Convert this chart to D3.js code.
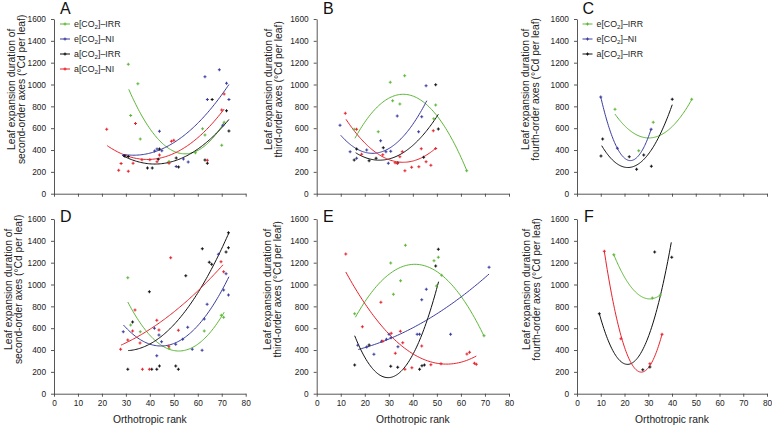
<!DOCTYPE html>
<html><head><meta charset="utf-8">
<script src="https://cdn.jsdelivr.net/npm/d3@7"></script>
<style>
body{margin:0;background:#fff;}
svg{display:block;font-family:"Liberation Sans",Arial,sans-serif;}
</style></head><body>
<svg id="c" width="772" height="425"></svg>
<script>
// ---------- DATA ----------
const seriesKeys = ["eIRR","eNI","aIRR","aNI"];
const seriesPrefix = ["e","e","a","a"];
const seriesSuffix = ["IRR","NI","IRR","NI"];
const xTicks = [0,10,20,30,40,50,60,70,80];
const yTicks = [0,200,400,600,800,1000,1200,1400,1600];
const panelLetters = ["A","B","C","D","E","F"];
const axisOrders = ["second","third","fourth","second","third","fourth"];

// Panel A
const A_eIRR = [[31,1185],[35,1007],[32,716],[36,501],[48,295],[59,375],[62,595],[63,537],[70,443],[71,654]];
const A_eNI  = [[29,351],[42,391],[43,409],[45,394],[44,572],[51,248],[54,318],[56,290],[63,1072],[64,862],[69,1136],[72,1011],[73,862],[70.5,626]];
const A_aIRR = [[29.5,345],[31,340],[39,236],[41,236],[44,409],[43.5,316],[51,327],[52,245],[63,308],[64,278],[66,862],[72,760],[73,574]];
const A_aNI  = [[22,590],[27,214],[28,276],[31,206],[33,280],[34,643],[36.7,311],[40,311],[43,293],[44,354],[48,278],[49,480],[50,490],[64,307],[70,766],[71,912]];
const A_fit_eIRR = [[31.2,956],[56.8,370],[71.1,655]];
const A_fit_eNI  = [[29,360],[47,430],[73,1000]];
const A_fit_aIRR = [[29,345],[43,272],[73,680]];
const A_fit_aNI  = [[22.2,440],[38,314],[71,775]];

// Panel B
const B_eIRR = [[15.6,590],[25.6,568],[30.6,1020],[31.6,852],[34.6,821],[36.6,1081],[48.7,687],[49.5,812],[62.4,211]];
const B_eNI  = [[9.7,626],[13.9,385],[16.6,324],[20.8,400],[26.6,485],[28.8,385],[29.8,278],[30.8,388],[33.5,711],[42.4,568],[43.7,705],[45.5,989]];
const B_aIRR = [[15.6,309],[16.6,409],[21.8,302],[24.7,324],[27.7,421],[33.7,281],[44.5,333],[49.5,998],[50.6,592]];
const B_aNI  = [[11.9,736],[16.6,590],[18.7,361],[27.5,357],[32.6,284],[33.5,280],[34.6,339],[35.6,385],[36.7,211],[39.5,242],[42.5,247],[43.5,412],[45.5,293],[47.5,260],[48.5,577],[49.5,415]];
const B_fit_eIRR = [[15.9,507],[36.7,910],[62.4,214]];
const B_fit_eNI  = [[10,535],[23.5,370],[45.8,852]];
const B_fit_aIRR = [[16.2,375],[26,307],[50.6,727]];
const B_fit_aNI  = [[12.2,681],[35.4,288],[49.6,418]];

// Panel C
const C_eIRR = [[16,773],[26,394],[32.1,654],[48.3,864]];
const C_eNI  = [[10,886],[17,416],[31.2,590]];
const C_aIRR = [[10.1,345],[10.8,501],[22,339],[25.1,223],[28.1,354],[31.3,251],[40.1,864]];
const C_fit_eIRR = [[16,729],[33.5,522],[48.3,862]];
const C_fit_eNI  = [[10,886],[22,304],[31.2,590]];
const C_fit_aIRR = [[10.4,440],[21,240],[40.1,815]];

// Panel D
const D_eIRR = [[30.8,1062],[32,629],[36,568],[48,416],[62.7,574],[69.8,718],[70.8,700]];
const D_eNI  = [[28.9,568],[41.9,599],[43.8,537],[42.9,348],[44.9,476],[50.8,452],[53.7,498],[55.8,608],[57.7,407],[61.8,397],[62.7,684],[63.9,819],[68.6,1277],[71.8,1099],[70.8,950],[72.8,904]];
const D_aIRR = [[30.8,223],[32.8,657],[39.8,934],[40.8,223],[42.9,223],[44,254],[50.8,254],[51.9,223],[55,1081],[61.9,1328],[64.8,1203],[65.8,1185],[71.8,1298],[72.8,1337],[72.8,1474]];
const D_aNI  = [[27.8,407],[30.8,491],[32.8,574],[33.8,766],[35.9,464],[36.9,223],[39.8,223],[42.9,672],[43.8,583],[47.9,434],[48.7,1245],[51.9,580],[69.7,1209],[70.8,1117]];
const D_fit_eIRR = [[30.8,840],[52,391],[71,746]];
const D_fit_eNI  = [[29,629],[45,437],[73,1071]];
const D_fit_aIRR = [[31,395],[51.2,660],[73,1474]];
const D_fit_aNI  = [[28,445],[51,766],[70.5,1180]];

// Panel E
const E_eIRR = [[15.8,733],[30.8,1197],[31.9,910],[34.9,1035],[36.9,1359],[48.8,1218],[49.8,986],[50.6,1249],[52,1084],[69.6,531]];
const E_eNI  = [[17.1,443],[20.8,428],[23.8,361],[27,480],[29,498],[30.1,544],[30.9,513],[33.8,430],[41.8,544],[42.8,544],[43.7,861],[45.6,956],[55.7,544],[71.7,1157]];
const E_aIRR = [[15.8,263],[21.8,446],[30.8,251],[33.7,242],[42.8,223],[43.8,256],[44.8,263],[49.5,1169],[50.6,1322]];
const E_aNI  = [[12.1,1279],[19,614],[26.7,837],[27.5,480],[31,553],[32.7,370],[34.8,571],[35.8,467],[36.7,223],[39.6,238],[43.7,437],[47.5,266],[51.7,275],[62.5,364],[63.6,379],[65.6,278],[66.4,269]];
const E_fit_eIRR = [[16.1,700],[40.5,1185],[69.6,528]];
const E_fit_eNI  = [[17.3,405],[45.8,675],[71.7,1096]];
const E_fit_aIRR = [[15.8,531],[29.8,147],[50.7,1026]];
const E_fit_aNI  = [[12.1,1115],[55.4,272],[66.4,345]];

// Panel F
const F_eIRR = [[15.5,1273],[31.7,876],[35.1,904]];
const F_aIRR = [[9.4,733],[27.7,220],[30.7,245],[32.7,1298],[39.9,1249]];
const F_aNI  = [[11.5,1304],[18.5,504],[30.7,275],[35.8,544]];
const F_fit_eIRR = [[15.5,1273],[31.6,870],[35.1,904]];
const F_fit_aIRR = [[9.4,733],[21.6,269],[39.7,1386]];
const F_fit_aNI  = [[11.5,1304],[28.6,208],[35.8,544]];

// ---------- STYLE / LAYOUT ----------
const colors = {eIRR:"#5cb737", eNI:"#3a3c9e", aIRR:"#111111", aNI:"#e8212b"};
const colX = [[54,245.7],[316.7,509],[577,767]];
const rowY = [[193.7,19],[393.7,219]];
const titleX = [[11,21.5],[268,278.5],[525,535.5],[8,18.5],[267,277.5],[526,536.5]];
const letterPos = [[60,13.5],[323,13.5],[582.5,13.5],[60,221.5],[323,221.5],[584,221.5]];

const panels = [
  {pts:{eIRR:A_eIRR,eNI:A_eNI,aIRR:A_aIRR,aNI:A_aNI}, fits:{eIRR:A_fit_eIRR,eNI:A_fit_eNI,aIRR:A_fit_aIRR,aNI:A_fit_aNI}, legend:["eIRR","eNI","aIRR","aNI"]},
  {pts:{eIRR:B_eIRR,eNI:B_eNI,aIRR:B_aIRR,aNI:B_aNI}, fits:{eIRR:B_fit_eIRR,eNI:B_fit_eNI,aIRR:B_fit_aIRR,aNI:B_fit_aNI}},
  {pts:{eIRR:C_eIRR,eNI:C_eNI,aIRR:C_aIRR}, fits:{eIRR:C_fit_eIRR,eNI:C_fit_eNI,aIRR:C_fit_aIRR}, legend:["eIRR","eNI","aIRR"]},
  {pts:{eIRR:D_eIRR,eNI:D_eNI,aIRR:D_aIRR,aNI:D_aNI}, fits:{eIRR:D_fit_eIRR,eNI:D_fit_eNI,aIRR:D_fit_aIRR,aNI:D_fit_aNI}},
  {pts:{eIRR:E_eIRR,eNI:E_eNI,aIRR:E_aIRR,aNI:E_aNI}, fits:{eIRR:E_fit_eIRR,eNI:E_fit_eNI,aIRR:E_fit_aIRR,aNI:E_fit_aNI}},
  {pts:{eIRR:F_eIRR,aIRR:F_aIRR,aNI:F_aNI}, fits:{eIRR:F_fit_eIRR,aIRR:F_fit_aIRR,aNI:F_fit_aNI}}
];

// quadratic through three read points
function quad(p){
  const [[x1,y1],[x2,y2],[x3,y3]] = p;
  const s1=(y2-y1)/(x2-x1), s2=(y3-y2)/(x3-x2);
  const a=(s2-s1)/(x3-x1);
  const b=s1-a*(x1+x2);
  const c=y1-a*x1*x1-b*x1;
  return x=>a*x*x+b*x+c;
}

const svg = d3.select("#c");
const sym = d3.symbol().type(d3.symbolCross).size(5);

panels.forEach((P,i)=>{
  const col=i%3, row=Math.floor(i/3);
  const x=d3.scaleLinear().domain([0,80]).range(colX[col]);
  const y=d3.scaleLinear().domain([0,1600]).range(rowY[row]);
  const g=svg.append("g");

  const ax=g.append("g").attr("transform",`translate(0,${rowY[row][0]})`)
    .call(d3.axisBottom(x).tickValues(xTicks).tickSize(3).tickSizeOuter(0).tickPadding(3)
      .tickFormat(row===1? d3.format("d") : ()=>""));
  const ay=g.append("g").attr("transform",`translate(${colX[col][0]},0)`)
    .call(d3.axisLeft(y).tickValues(yTicks).tickSize(3).tickSizeOuter(0).tickPadding(5).tickFormat(d3.format("d")));
  [ax,ay].forEach(a=>{
    a.selectAll("path,line").attr("stroke","#444").attr("stroke-width",0.9);
    a.selectAll("text").attr("font-size",8.3).attr("fill","#222").attr("font-family","Liberation Sans, Arial, sans-serif");
  });

  // y title
  const cy = rowY[row][1] + (rowY[row][0]-rowY[row][1])/2 - 17;
  g.append("text").attr("transform",`translate(${titleX[i][0]+3.6},${cy}) rotate(-90)`)
    .attr("text-anchor","middle").attr("font-size",10.3).attr("fill","#222").text("Leaf expansion duration of");
  g.append("text").attr("transform",`translate(${titleX[i][1]+3.6},${cy}) rotate(-90)`)
    .attr("text-anchor","middle").attr("font-size",10.3).attr("fill","#222")
    .text(`${axisOrders[i]}-order axes (°Cd per leaf)`);

  if(row===1){
    g.append("text").attr("x",(colX[col][0]+colX[col][1])/2).attr("y",422.5)
      .attr("text-anchor","middle").attr("font-size",10.3).attr("fill","#222").text("Orthotropic rank");
  }

  g.append("text").attr("x",letterPos[i][0]).attr("y",letterPos[i][1])
    .attr("font-size",16).attr("fill","#111").text(panelLetters[i]);

  // fitted curves
  const line=d3.line().x(d=>x(d[0])).y(d=>y(d[1]));
  Object.keys(P.fits).forEach(k=>{
    const p=P.fits[k], f=quad(p);
    const xs=d3.range(p[0][0], p[2][0]+1e-9, (p[2][0]-p[0][0])/80);
    g.append("path").datum(xs.map(v=>[v,f(v)])).attr("d",line)
      .attr("fill","none").attr("stroke",colors[k]).attr("stroke-width",1);
  });
  // points
  Object.keys(P.pts).forEach(k=>{
    g.append("g").selectAll("path").data(P.pts[k]).join("path")
      .attr("transform",d=>`translate(${x(d[0])},${y(d[1])})`)
      .attr("d",sym).attr("fill",colors[k]);
  });

  // legend
  if(P.legend){
    const lx = col===0 ? 60 : 582.5;
    P.legend.forEach((k,j)=>{
      const ly = 24 + j*15;
      const idx = seriesKeys.indexOf(k);
      g.append("line").attr("x1",lx).attr("x2",lx+10).attr("y1",ly).attr("y2",ly)
        .attr("stroke",colors[k]).attr("stroke-width",1);
      g.append("path").attr("transform",`translate(${lx+5},${ly})`).attr("d",sym).attr("fill",colors[k]);
      const t=g.append("text").attr("x",lx+14).attr("y",ly+3).attr("font-size",8.8).attr("fill","#222");
      t.append("tspan").text(seriesPrefix[idx]+"[CO");
      t.append("tspan").attr("font-size",6.2).attr("dy",2).text("2");
      t.append("tspan").attr("dy",-2).text("]–"+seriesSuffix[idx]);
    });
  }
});
</script>
</body></html>
